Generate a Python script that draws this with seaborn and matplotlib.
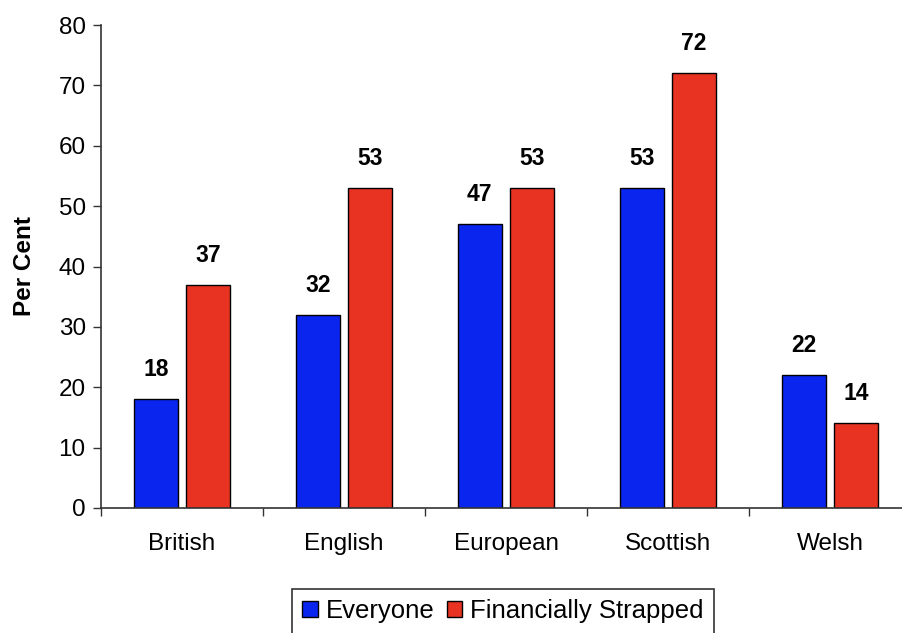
import matplotlib
matplotlib.use("Agg")
import matplotlib.pyplot as plt
import seaborn as sns
import pandas as pd
from matplotlib.ticker import FixedLocator

categories = ["British", "English", "European", "Scottish", "Welsh"]
series_names = ["Everyone", "Financially Strapped"]
everyone = [18, 32, 47, 53, 22]
strapped = [37, 53, 53, 72, 14]
y_ticks = [0, 10, 20, 30, 40, 50, 60, 70, 80]

df = pd.DataFrame({
    "cat": categories * 2,
    "series": [series_names[0]] * len(categories) + [series_names[1]] * len(categories),
    "val": everyone + strapped,
})

sns.set_style("white")
plt.rcParams['font.family'] = ['Liberation Sans', 'DejaVu Sans']
plt.rcParams['text.color'] = 'black'
plt.rcParams['axes.labelcolor'] = 'black'
plt.rcParams['xtick.labelcolor'] = 'black'
plt.rcParams['ytick.labelcolor'] = 'black'

fig = plt.figure(figsize=(9.02, 6.33), dpi=100)
ax = fig.add_axes([101/902, 125/633, 810/902, 483/633])
palette = {"Everyone": "#0A26EE", "Financially Strapped": "#E83222"}
sns.barplot(data=df, x="cat", y="val", hue="series", order=categories,
            hue_order=series_names, palette=palette, width=0.646, gap=0.154,
            edgecolor="black", linewidth=1.0, saturation=1, ax=ax, legend=True)

for cont in ax.containers:
    for bar in cont:
        h = bar.get_height()
        ax.annotate(f"{int(round(h))}", (bar.get_x() + bar.get_width()/2, h),
                    xytext=(0, 13), textcoords="offset points", ha="center", va="bottom",
                    fontsize=16.5, fontweight="bold", color="black")

ax.set_ylim(0, 80)
ax.set_xlim(-0.5, 4.5)
ax.set_yticks(y_ticks)
ax.tick_params(axis="y", which="major", direction="out", length=6, width=1, labelsize=17.5,
               left=True, pad=5, color="#333333", labelcolor="black")
ax.tick_params(axis="x", which="major", length=0, labelsize=17.5, pad=18, labelcolor="black")
ax.xaxis.set_minor_locator(FixedLocator([i - 0.5 for i in range(len(categories) + 1)]))
ax.tick_params(axis="x", which="minor", direction="out", length=6, width=1, bottom=True, color="#333333")
ax.set_xlabel("")
ax.set_ylabel("Per Cent", fontsize=17.5, fontweight="bold", labelpad=16, color="black")
for s in ["top", "right"]:
    ax.spines[s].set_visible(False)
for s in ["left", "bottom"]:
    ax.spines[s].set_color("#333333")
    ax.spines[s].set_linewidth(1.2)

handles, labels = ax.get_legend_handles_labels()
ax.legend_.remove()
leg = fig.legend(handles, labels, loc="upper center", bbox_to_anchor=(503/902, 1 - 589/633), ncol=2,
                 frameon=True, fancybox=False, edgecolor="black", fontsize=18.5,
                 handlelength=0.6, handleheight=0.6, handletextpad=0.3, columnspacing=0.5,
                 borderpad=0.4, borderaxespad=0)
leg.get_frame().set_linewidth(1.2)
for t in leg.get_texts():
    t.set_color("black")

fig.savefig("out.png", dpi=100)
